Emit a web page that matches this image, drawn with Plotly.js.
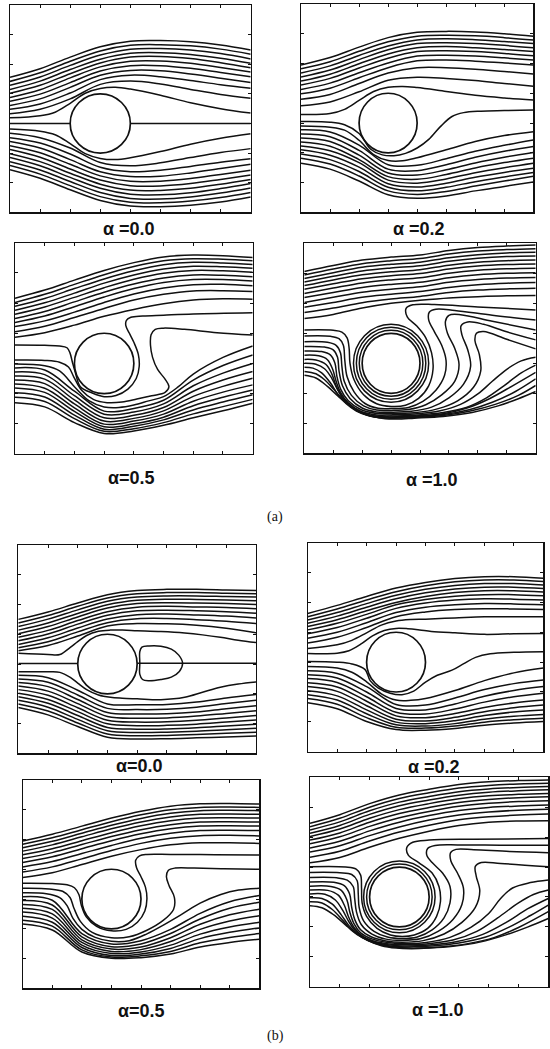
<!DOCTYPE html>
<html>
<head>
<meta charset="utf-8">
<script src="https://cdn.plot.ly/plotly-3.0.1.min.js"></script>
<style>
  html, body { margin: 0; padding: 0; background: #fff; }
  #chart { width: 550px; height: 1049px; }
</style>
</head>
<body>
<div id="chart"></div>
<script>
// Streamlines past a circular cylinder, two model sets (a) and (b),
// four values of alpha each. Coordinates are in grid units: x 0..80, y 0..70.

// x stations shared by the "regular" streamlines (y given at each station)
const stationX = [0, 10, 20, 30, 40, 50, 60, 70, 80];

// cylinder
const cylinderCentre = [30, 30];
const cylinderRadius = 10;

// ---------- (a) alpha = 0.0 ----------
const aAlpha00Lines = [
  [45.6,48.5,52.4,55.9,57.8,58.0,57.6,56.5,54.8],
  [44.2,47.1,51.0,54.5,56.4,56.6,56.2,55.1,53.4],
  [42.9,45.7,49.6,53.1,55.1,55.3,54.8,53.6,51.8],
  [41.5,44.3,48.2,51.7,53.7,53.9,53.3,52.0,50.3],
  [40.2,42.9,46.8,50.4,52.4,52.6,51.9,50.5,48.8],
  [38.8,41.4,45.4,49.1,51.0,51.1,50.3,48.9,47.4],
  [37.5,39.9,43.8,47.7,49.5,49.5,48.6,47.2,45.8],
  [36.1,38.3,42.2,46.3,47.9,47.8,46.7,45.3,43.8],
  [34.8,36.6,40.3,44.8,46.3,45.8,44.5,43.1,41.9],
  [33.3,34.8,38.3,43.2,44.3,43.3,41.5,39.8,38.5],
  [26.7,25.2,21.7,16.8,15.7,16.7,18.5,20.2,21.5],
  [25.2,23.4,19.7,15.2,13.7,14.2,15.5,16.9,18.1],
  [23.9,21.7,17.8,13.7,12.1,12.2,13.3,14.8,16.2],
  [22.5,20.1,16.2,12.3,10.5,10.5,11.4,12.8,14.2],
  [21.2,18.6,14.6,10.9,9.0,8.9,9.7,11.1,12.6],
  [19.8,17.1,13.2,9.5,7.5,7.4,8.1,9.5,11.1],
  [18.5,15.7,11.8,8.1,6.1,5.9,6.6,8.0,9.7],
  [17.1,14.3,10.4,6.7,4.7,4.5,5.2,6.5,8.2],
  [15.8,12.9,9.0,5.3,3.4,3.2,3.8,5.0,6.7],
  [14.4,11.5,7.6,4.0,2.1,1.9,2.4,3.5,5.2]
];
const aAlpha00Curves = [
  [[0,10,15,20,25,30,35,40,50,60,70,80],[31.9,32.6,33.8,36.8,40.2,41.8,42.2,41.6,39.5,37.0,35.0,33.5]],
  [[0,10,15,20,25,30,35,40,50,60,70,80],[28.1,27.4,26.2,23.2,19.8,18.2,17.8,18.4,20.5,23.0,25.0,26.5]],
  [[0,20],[30,30]],
  [[40,80],[30,30]]
];
const aAlpha00Rings = [];

// ---------- (a) alpha = 0.2 ----------
const aAlpha02Lines = [
  [49.5,52.0,55.5,58.7,60.5,60.8,60.6,60.0,59.2],
  [48.2,50.6,54.1,57.3,59.2,59.5,59.3,58.7,57.9],
  [46.8,49.2,52.7,55.9,57.9,58.3,58.0,57.4,56.7],
  [45.5,47.8,51.3,54.6,56.7,57.0,56.7,56.1,55.3],
  [44.1,46.4,49.9,53.2,55.3,55.7,55.3,54.7,54.0],
  [42.8,45.0,48.5,51.8,54.0,54.3,54.0,53.4,52.6],
  [41.3,43.4,46.9,50.2,52.5,52.8,52.5,51.9,51.2],
  [39.8,41.7,45.2,48.6,50.9,51.2,50.8,50.2,49.5],
  [38.0,39.6,43.3,46.8,48.6,48.6,48.1,47.3,46.5],
  [35.8,37.1,40.5,44.4,45.4,45.0,44.3,43.3,42.4],
  [27.7,27.0,22.6,16.0,15.8,18.0,20.5,22.5,24.3],
  [26.3,25.4,20.8,14.5,14.0,16.0,18.5,20.5,22.1],
  [25.0,23.8,19.2,13.2,12.5,14.3,16.6,18.5,20.1],
  [23.6,22.2,17.7,12.0,11.1,12.7,14.9,16.7,18.2],
  [22.3,20.7,16.7,10.8,9.8,11.2,13.3,15.0,16.5],
  [21.0,19.2,15.2,9.6,8.5,9.8,11.8,13.4,14.8],
  [19.6,17.7,13.7,8.4,7.2,8.4,10.3,11.9,13.4],
  [18.2,16.2,12.2,7.2,6.0,7.0,8.8,10.5,12.1],
  [16.5,14.5,10.5,5.9,4.7,5.5,7.2,8.7,10.2]
];
const aAlpha02Curves = [
  [[0,10,15,20,25,30,35,40,50,60,70,80],[32.9,33.2,34.6,37.6,40.6,42.0,42.3,41.9,40.6,39.3,38.4,37.7]],
  [[0,10,15,20,24,28,32,36,40,44,48,52,56,62,70,80],[30.5,30.3,29.4,26.5,21.2,19.3,19.0,19.8,21.6,24.5,28.8,32.2,33.5,34.0,34.2,34.4]],
  [[0,10,15,20,25,30,35,40,50,60,70,80],[29.0,28.6,27.6,24.2,19.4,17.4,17.3,18.3,21.0,23.8,25.8,27.1]]
];
const aAlpha02Rings = [];

// ---------- (a) alpha = 0.5 ----------
const aAlpha05Lines = [
  [51.6,54.3,57.6,60.8,63.4,65.3,65.9,65.7,65.1],
  [50.2,52.9,56.2,59.4,62.1,64.0,64.7,64.5,64.0],
  [48.9,51.5,54.8,58.0,60.7,62.7,63.5,63.3,62.8],
  [47.6,50.1,53.3,56.6,59.3,61.3,62.2,62.0,61.5],
  [46.3,48.7,51.9,55.1,57.9,59.9,60.8,60.7,60.2],
  [44.9,47.2,50.4,53.6,56.3,58.3,59.3,59.2,58.7],
  [43.6,45.7,48.8,52.0,54.8,56.8,57.8,57.8,57.3],
  [42.2,44.1,47.0,50.2,53.0,55.0,56.1,56.2,55.7],
  [40.5,42.3,45.2,48.2,51.0,52.9,54.0,54.1,53.8],
  [38.7,40.2,42.7,45.6,47.9,49.8,51.0,51.4,51.3],
  [28.5,27.8,20.8,14.2,15.1,17.8,24.5,29.3,32.8],
  [27.2,26.3,19.3,13.2,13.9,16.6,22.6,26.8,30.0],
  [25.8,24.8,17.9,12.0,12.8,15.4,20.8,24.5,27.3],
  [24.5,23.3,16.6,10.9,11.8,14.3,19.1,22.4,25.1],
  [23.2,21.8,15.3,9.9,10.9,13.2,17.5,20.5,22.9],
  [21.9,20.4,14.1,9.0,10.0,12.2,16.0,18.8,21.2],
  [20.3,18.9,12.9,8.2,9.2,11.3,14.6,17.2,19.6],
  [18.8,17.4,11.7,7.5,8.4,10.4,13.3,15.7,18.1],
  [17.0,15.6,10.4,6.8,7.6,9.5,12.0,14.3,16.8]
];
const aAlpha05Curves = [
  [[0,10,15,17.5,18.5,19.3,20.3,22,26,30,34,38,40.8,41.8,41.5,40,38.5,37.3,37.5,39,43,50,60,80],
   [36.1,36.0,35.8,35.2,33.5,30.5,27.0,22.3,20.2,19.0,19.4,21.5,25.0,29,33,37,40,42.5,44.3,45.3,45.7,46.0,46.4,46.8]],
  [[0,10,15,18,19.8,22.5,26.5,31,36,41,46,50.5,51.8,50.5,48,46.3,45.6,45.8,47.2,50,57,68,80],
   [31.1,31.0,30.4,28.8,25.5,21.0,18.0,17.0,17.2,18.2,19.3,20.4,22.3,24.8,28,32,36,39.5,41.3,41.7,41.3,40.2,39.4]],
  [[0,10,15,20,25,30,35,40,45,50,55,60,70,80],
   [29.8,29.2,27.5,22.3,17.6,15.6,15.4,16.2,17.6,19.0,22.3,26.5,32.0,35.8]]
];
const aAlpha05Rings = [];

// ---------- (a) alpha = 1.0 ----------
const aAlpha10Lines = [
  [60.6,62.6,64.4,65.4,66.1,67.6,68.6,69.1,69.4],
  [59.4,61.4,63.2,64.2,64.9,66.4,67.4,67.9,68.2],
  [58.3,60.2,62.0,63.0,63.7,65.2,66.2,66.8,67.0],
  [57.1,59.0,60.8,61.8,62.5,64.0,65.0,65.6,65.8],
  [55.9,57.8,59.5,60.5,61.2,62.7,63.7,64.2,64.4],
  [54.7,56.5,58.2,59.2,59.9,61.4,62.4,62.9,63.1],
  [53.3,55.1,56.8,57.8,58.5,60.0,61.0,61.5,61.7],
  [51.9,53.6,55.3,56.3,57.0,58.5,59.5,60.0,60.2],
  [50.3,52.0,53.7,54.7,55.5,57.0,57.9,58.4,58.6],
  [48.7,50.3,52.0,53.0,53.9,55.3,56.2,56.7,56.9],
  [46.9,48.4,50.2,51.4,52.3,53.6,54.4,54.8,55.0],
  [44.9,46.3,48.4,50.0,51.0,51.8,52.2,52.5,52.6]
];
const aAlpha10Curves = [
  [[0,10,13,14.8,15.5,15.8,17.2,20.5,25,30,35,39.5,43,44.5,44,42,38.8,35.6,35.2,37.5,45,60,80],
   [41.1,41.0,40.4,38.5,35,30,24.5,19.5,16.5,15.6,16.0,18.3,22.5,28,33.5,38.5,42.5,45.5,48.3,49.5,49.6,48.8,47.8]],
  [[0,9,12,13.5,14,14.8,17.2,21,25.5,30,36,41,45.5,48.5,49,47.5,45,43,43.2,45.5,52,65,80],
   [39.1,39.0,38.2,36,31,25.5,20.5,16.6,15.0,14.9,15.3,17.3,21,26,31,36,40.5,44.5,47,48,47.6,46,44.4]],
  [[0,8,11,12.5,13,13.8,16.3,20.5,25,30,36,42,47.5,52,53.5,52,49.5,48.8,50,54,65,80],
   [37.2,37.0,36,33.5,29,24,19.3,15.8,14.4,14.3,14.6,16.2,19.5,24,29.5,35,40,44,46.0,46.2,44.0,41.1]],
  [[0,7,10,11.5,12,13.2,15.8,20,25,30,37,44,50,55,57.5,56.5,54.5,54.2,56.5,62,70,80],
   [35.6,35.4,34.5,32,27.5,22.5,18.3,15.1,13.8,13.7,14.0,15.4,18.5,23,29,34.5,39.5,42.5,43.8,43,40.5,37.8]],
  [[0,6,9,10.6,11.3,12.6,15.2,19.5,25,30,38,46,53,58.5,61,60.5,59,59.5,62,70,80],
   [34.1,33.9,32.8,30,25.5,21.3,17.5,14.6,13.3,13.2,13.5,14.8,17.5,22,27.5,33,37.5,40,40.6,38,34.8]],
  [[0,5,8,9.8,11,12.5,15.2,19.5,25,30,38,47,54,60,65,70,75,80],
   [32.7,32.5,31.2,28,24,20.3,16.8,14.0,12.8,12.8,13.1,14.2,16.3,19.8,24,28,30.8,32.0]],
  [[0,4,7.5,9.5,11,13,16,20,25,30,38,48,56,63,69,75,80],
   [31.3,31.1,29.6,26.5,22.5,18.8,15.6,13.4,12.4,12.4,12.7,13.6,15.3,18.5,22.5,26.8,29.4]],
  [[0,4,7,9.5,11.5,14,17,21,25.5,30,38,48,56,64,72,80],
   [30.0,29.7,28.2,25,21.2,17.6,14.9,13.0,12.1,12.1,12.4,13.2,15,18.2,22.5,27.0]],
  [[0,3,6,9,11.5,14.5,18,22,26,30,38,48,57,65,73,80],
   [28.7,28.4,26.8,23.5,19.8,16.5,14.1,12.6,11.9,11.9,12.2,12.9,14.5,17,20.6,24.8]],
  [[0,4,7,10,13,16.5,20.5,25,30,38,48,57,66,74,80],
   [27.3,26.5,24.5,21.5,18.3,15.4,13.2,12.0,11.7,11.9,12.6,14,16.3,19.3,22.6]],
  [[0,4,8,11.5,15,19,23.5,28,32,38,48,58,67,74,80],
   [26.0,25.1,22.3,19.2,16.4,14.0,12.3,11.5,11.4,11.7,12.3,13.6,15.8,18.2,20.6]]
];
const aAlpha10Rings = [11, 12, 13];

// ---------- (b) alpha = 0.0 ----------
const bAlpha00Lines = [
  [45.0,47.5,50.5,53.3,54.7,55.1,55.1,54.9,54.7],
  [43.8,46.3,49.4,52.2,53.6,54.0,54.0,53.8,53.6],
  [42.6,45.1,48.2,51.1,52.5,52.9,52.9,52.7,52.5],
  [41.4,43.8,47.0,49.9,51.4,51.8,51.7,51.5,51.3],
  [40.2,42.6,45.8,48.8,50.3,50.6,50.5,50.3,50.0],
  [39.0,41.3,44.6,47.6,49.1,49.4,49.2,49.0,48.6],
  [37.8,40.1,43.4,46.4,47.9,48.1,47.9,47.6,47.1],
  [36.6,38.8,42.1,45.1,46.6,46.8,46.5,46.1,45.5],
  [35.5,37.5,40.8,43.9,45.2,45.3,44.9,44.4,43.6],
  [34.5,36.2,39.4,42.8,43.6,43.5,43.0,42.0,40.5],
  [26.2,25.4,21.2,16.6,16.3,16.4,17.2,18.6,19.8],
  [25.0,23.9,19.6,15.1,14.7,14.8,15.5,16.7,17.8],
  [23.8,22.4,18.1,13.7,13.2,13.3,13.9,15.0,16.0],
  [22.6,20.9,16.7,12.4,11.8,11.9,12.5,13.4,14.3],
  [21.4,19.5,15.3,11.1,10.5,10.6,11.1,11.9,12.7],
  [20.2,18.1,14.0,9.9,9.3,9.4,9.8,10.5,11.2],
  [19.0,16.8,12.7,8.7,8.1,8.2,8.6,9.2,9.8],
  [17.8,15.5,11.4,7.6,7.0,7.1,7.4,7.9,8.4],
  [16.6,14.2,10.2,6.5,5.9,6.0,6.3,6.7,7.1],
  [15.4,12.9,9.0,5.4,4.8,4.9,5.2,5.5,5.8]
];
const bAlpha00Curves = [
  [[0,10,14,17.5,20,23,27,31,35,40,48,56,62,68,74,80],
   [33.6,33.2,33.2,35.6,37.5,39.6,41.0,41.4,41.4,41.2,40.9,40.4,39.8,39.0,38.0,37.2]],
  [[0,10,14,17.5,20,23,27,31,35,40,48,56,62,68,74,80],
   [27.4,27.4,27.2,25.5,23.6,21.4,19.6,18.8,18.5,18.3,18.0,18.8,20.5,22.2,23.3,24.0]],
  [[0,20],[30.2,30.2]],
  [[40,80],[30.3,30.3]],
  [[40.9,40.9,41.6,44,48,51.5,54,55.3,54.2,51.5,48,44,41.8,40.9,40.9],
   [30.3,34.2,35.7,36.1,36.0,35.0,33.0,30.3,27.5,25.6,24.8,24.4,24.8,26.5,30.3]]
];
const bAlpha00Rings = [];

// ---------- (b) alpha = 0.2 ----------
const bAlpha02Lines = [
  [46.3,49.0,52.0,54.8,56.7,58.0,58.6,58.6,58.1],
  [45.2,47.8,50.8,53.6,55.6,56.9,57.5,57.5,57.0],
  [44.1,46.6,49.6,52.4,54.4,55.7,56.3,56.3,55.8],
  [43.0,45.4,48.4,51.2,53.2,54.5,55.1,55.1,54.7],
  [41.9,44.2,47.2,50.0,52.0,53.3,53.9,53.9,53.5],
  [40.8,43.0,46.0,49.2,51.0,52.1,52.6,52.6,52.2],
  [39.5,41.6,44.7,48.0,49.8,50.8,51.2,51.1,50.8],
  [38.0,40.0,43.2,46.6,48.4,49.2,49.6,49.5,49.2],
  [36.4,38.3,41.6,45.2,46.8,47.6,47.9,47.8,47.6],
  [27.1,26.2,21.8,15.8,15.6,18.0,20.8,22.8,24.0],
  [25.8,24.7,20.0,14.5,14.0,16.0,18.6,20.5,21.8],
  [24.5,23.2,18.4,13.2,12.6,14.3,16.6,18.4,19.6],
  [23.1,21.7,16.9,12.0,11.4,12.8,14.8,16.3,17.3],
  [21.8,20.2,15.4,10.9,10.3,11.5,13.4,14.7,15.6],
  [20.4,18.7,14.0,9.9,9.4,10.4,12.1,13.3,14.0],
  [19.1,17.3,12.7,9.0,8.6,9.4,10.9,11.9,12.5],
  [17.8,15.9,11.4,8.2,7.9,8.6,9.9,10.7,11.2],
  [16.4,14.4,10.1,7.4,7.2,7.8,8.9,9.6,10.1]
];
const bAlpha02Curves = [
  [[0,10,15,20,25,30,35,40,50,60,70,80],[34.6,35.8,37.3,39.8,42.4,43.8,44.3,44.4,44.8,45.2,45.2,45.2]],
  [[0,10,14,18,22,26,30,34,38,42,50,60,70,80],[32.9,33.0,33.8,36.0,38.8,40.6,41.3,41.2,40.8,40.3,39.8,39.3,39.5,39.6]],
  [[0,10,15,19.5,21.2,24,28,32,36,40,44,49,53,57,62,70,80],
   [30.2,30.0,29.4,27.5,23.8,21.3,19.6,19.1,20.3,23.3,25.6,27.3,29.5,31.6,32.8,33.3,33.5]],
  [[0,10,15,20,25,30,35,40,50,60,70,80],[28.5,28.0,26.6,23.4,19.4,17.3,17.2,17.8,20.5,23.8,26.4,28.0]]
];
const bAlpha02Rings = [];

// ---------- (b) alpha = 0.5 ----------
const bAlpha05Lines = [
  [49.5,51.8,54.5,57.2,59.5,61.2,62.0,62.1,61.9],
  [48.4,50.6,53.3,56.0,58.3,60.0,60.8,60.9,60.8],
  [47.2,49.4,52.1,54.8,57.1,58.8,59.7,59.8,59.7],
  [46.1,48.2,50.9,53.6,55.9,57.6,58.5,58.6,58.5],
  [44.9,46.9,49.6,52.3,54.6,56.3,57.2,57.3,57.2],
  [43.6,45.6,48.3,51.0,53.3,55.0,55.9,56.0,55.9],
  [42.3,44.2,46.9,49.6,51.9,53.6,54.5,54.6,54.5],
  [40.8,42.6,45.3,48.0,50.4,52.1,53.0,53.1,53.0],
  [39.1,40.8,43.5,46.3,48.7,50.4,51.3,51.4,51.2],
  [37.2,38.8,41.6,44.4,46.6,48.2,48.9,48.9,48.7],
  [30.8,29.6,18.4,14.9,16.0,19.8,25.2,29.1,31.2],
  [29.5,28.0,17.3,14.0,14.9,18.4,23.3,26.9,28.9],
  [28.2,26.5,16.3,13.2,13.9,17.0,21.5,24.7,26.6],
  [26.9,25.0,15.4,12.4,13.0,15.7,19.8,22.6,24.4],
  [25.6,23.6,14.5,11.7,12.2,14.5,18.2,20.6,22.2],
  [24.2,22.2,13.7,11.0,11.5,13.4,16.7,18.8,20.3],
  [22.9,20.9,12.9,10.5,10.9,12.4,15.3,17.1,18.4],
  [21.6,19.6,12.2,10.1,10.3,11.5,13.9,15.4,16.5]
];
const bAlpha05Curves = [
  [[0,10,15,17.5,19,19.8,21.5,25,30,35,38.8,41.3,42,41.5,40,38.5,38.2,39.5,42,50,65,80],
   [35.3,35.2,34.8,33.8,31.5,28,24,20.8,19.3,19.8,22.2,26,30,34,37.5,40.5,43,44.5,45,45,44.9,44.8]],
  [[0,9,13.5,16,17.3,19.5,23.5,30,36,42,47.5,51,51.3,49.5,48.6,49.2,51.5,58,68,80],
   [33.6,33.4,32.6,30.5,27,22.5,18.8,17.0,17.3,19.5,22.8,26.5,30.5,34.5,37.5,39.6,40.4,40.4,40.2,40.0]],
  [[0,8,12.5,15,17,20,24.5,30,36,42,48,54,60,67,73,80],
   [32.1,31.8,30.5,27.8,23.5,19.8,17.1,15.8,16,18.3,21.5,25,28.6,31.5,33,33.6]]
];
const bAlpha05Rings = [];

// ---------- (b) alpha = 1.0 ----------
const bAlpha10Lines = [
  [54.6,57.5,61.2,64.1,66.0,67.6,68.5,68.9,69.1],
  [53.5,56.3,60.0,62.9,64.8,66.4,67.3,67.8,68.0],
  [52.4,55.1,58.8,61.7,63.6,65.2,66.1,66.6,66.9],
  [51.3,53.9,57.6,60.5,62.4,64.0,65.0,65.5,65.8],
  [50.2,52.7,56.3,59.2,61.2,62.8,63.8,64.3,64.6],
  [49.0,51.4,55.0,57.9,59.9,61.6,62.6,63.2,63.5],
  [47.8,50.1,53.6,56.5,58.6,60.3,61.3,61.9,62.2],
  [46.4,48.6,52.1,55.0,57.2,58.9,59.9,60.4,60.7],
  [45.0,47.1,50.5,53.4,55.7,57.4,58.4,59.0,59.3],
  [43.3,45.3,48.7,51.7,54.0,55.8,56.8,57.4,57.7],
  [41.4,43.2,46.6,49.6,52.0,53.9,55.0,55.4,55.5]
];
const bAlpha10Curves = [
  [[0,12,15.5,17,17.3,17.5,19,22.5,27,31,35,39.5,42.5,43.8,43.3,41,36.5,33,32.5,34.5,40,55,80],
   [40.1,40.0,39.3,37.3,33,28,23.5,19.5,17.3,16.8,17.3,19.5,23.5,28.5,33.5,38,41.5,44,46.5,48.3,49,49.3,49.5]],
  [[0,10,14,15.8,16.2,16.5,18,21.5,26,31,36,41,45,47,47,44.5,41,39.2,39.5,42,50,65,80],
   [38.2,38.1,37.5,35.5,31,26.5,22,18.5,16.6,16.1,16.6,19,23,28,33.5,38,41.5,44,46.2,47.2,47.4,47.3,47.3]],
  [[0,9,12.5,14.5,15,15.6,17.2,20.8,25.5,31,37,43,48,51,51.5,49.5,47.3,47.2,49,55,67,80],
   [36.5,36.4,35.6,33.5,29.5,25,20.8,17.6,15.9,15.5,16,18.5,22.5,27.5,33,38,42,44.8,45.9,45.8,45.2,44.8]],
  [[0,8,11.5,13.3,14,15,17,20.5,25.5,31,38,45,51,55.5,57,55.8,55.5,57.5,64,80],
   [35.0,34.9,33.8,31,26.5,22.5,19,16.7,15.3,14.9,15.4,17.6,21.5,26.5,32,37,40.2,41.5,41.2,40.1]],
  [[0,7,10.5,12.4,13.4,14.8,17,21,26,31,39,47,54,60,64,68,74,80],
   [33.6,33.5,32.2,29,24.8,21,18,15.9,14.8,14.4,14.8,16.5,19.8,24.5,29.5,33,34.8,35.7]],
  [[0,6,9.5,11.5,13,14.8,17.5,21.5,26.5,31,39,48,56,63,70,75,80],
   [32.3,32.2,30.6,27.3,23.2,19.8,17,15.2,14.3,14.0,14.3,15.6,18.5,23,28,30.8,32.3]],
  [[0,5,8.5,11,13,15.3,18.5,22.5,27,31,40,49,58,66,73,80],
   [31.0,30.9,29,25.5,21.8,18.6,16.2,14.7,13.9,13.6,13.9,15,17.5,21.6,26,29.5]],
  [[0,4,7.5,10.5,13,16,19.5,24,28.5,33,41,50,59,67,74,80],
   [29.7,29.5,27.6,24,20.5,17.6,15.5,14.1,13.4,13.3,13.6,14.6,16.6,20,23.8,27.3]],
  [[0,4,7.5,11,14,17.5,21.5,26,31,36,44,53,62,70,80],
   [28.4,28.0,25.8,22.2,18.8,16.4,14.6,13.5,13.0,12.9,13.3,14.4,16.5,19.8,25.1]],
  [[0,4,8,12,15.5,19.5,24,29,34,40,48,57,66,73,80],
   [27.1,26.4,24,20.6,17.8,15.4,13.7,12.9,12.7,12.9,13.5,14.9,17.4,19.9,22.8]]
];
const bAlpha10Rings = [11, 12];

// panel captions
const alphaLabels = ['α =0.0', 'α =0.2', 'α=0.5', 'α =1.0', 'α=0.0', 'α =0.2', 'α=0.5', 'α =1.0'];
const groupLabels = ['(a)', '(b)'];

// ---------- assembly ----------
const panelData = [
  [aAlpha00Lines, aAlpha00Curves, aAlpha00Rings],
  [aAlpha02Lines, aAlpha02Curves, aAlpha02Rings],
  [aAlpha05Lines, aAlpha05Curves, aAlpha05Rings],
  [aAlpha10Lines, aAlpha10Curves, aAlpha10Rings],
  [bAlpha00Lines, bAlpha00Curves, bAlpha00Rings],
  [bAlpha02Lines, bAlpha02Curves, bAlpha02Rings],
  [bAlpha05Lines, bAlpha05Curves, bAlpha05Rings],
  [bAlpha10Lines, bAlpha10Curves, bAlpha10Rings]
];

// plot frames in pixels: [left, right, top, bottom]
const FIG_W = 550, FIG_H = 1049;
const frames = [
  [10, 250.7, 5, 212.3],
  [301, 533.3, 4, 212.3],
  [15, 252.7, 242.7, 454],
  [304.3, 535.7, 243.3, 453.3],
  [18.3, 256, 545, 753.3],
  [307.7, 543.3, 542.7, 751.7],
  [22.7, 259.3, 780, 988.3],
  [310, 548.3, 777.3, 986.7]
];
const labelAt = [[129, 229], [419, 229], [131, 478], [432, 480], [139, 766], [434, 767], [141, 1011], [438, 1010]];
const groupAt = [[275, 517], [275, 1036]];

const INK = '#111';
const traces = [];
const shapes = [];
const annotations = [];
const layout = {
  width: FIG_W, height: FIG_H,
  margin: {l: 0, r: 0, t: 0, b: 0},
  paper_bgcolor: '#fff', plot_bgcolor: '#fff',
  showlegend: false,
  shapes: shapes, annotations: annotations
};

function lineStyle() {
  return {color: INK, width: 1.5, shape: 'spline', smoothing: 1};
}

panelData.forEach(function (p, i) {
  const n = i + 1;
  const xr = n === 1 ? 'x' : 'x' + n;
  const yr = n === 1 ? 'y' : 'y' + n;
  const f = frames[i];
  const axBase = {
    showgrid: false, zeroline: false, showticklabels: false,
    ticks: 'inside', ticklen: 3, tickwidth: 1, tickcolor: INK,
    tick0: 0, dtick: 10,
    showline: true, linecolor: INK, linewidth: 1.2, mirror: 'ticks',
    fixedrange: true
  };
  layout['xaxis' + (n === 1 ? '' : n)] = Object.assign({}, axBase, {
    range: [0, 80], domain: [f[0] / FIG_W, f[1] / FIG_W], anchor: yr
  });
  layout['yaxis' + (n === 1 ? '' : n)] = Object.assign({}, axBase, {
    range: [0, 70], domain: [1 - f[3] / FIG_H, 1 - f[2] / FIG_H], anchor: xr
  });

  const lines = p[0], curves = p[1], rings = p[2];
  lines.forEach(function (ys) {
    traces.push({type: 'scatter', mode: 'lines', x: stationX, y: ys,
      xaxis: xr, yaxis: yr, line: lineStyle(), hoverinfo: 'skip'});
  });
  curves.forEach(function (c) {
    traces.push({type: 'scatter', mode: 'lines', x: c[0], y: c[1],
      xaxis: xr, yaxis: yr, line: lineStyle(), hoverinfo: 'skip'});
  });

  // cylinder and closed streamlines around it
  [cylinderRadius].concat(rings).forEach(function (r, k) {
    shapes.push({
      type: 'circle', xref: xr, yref: yr,
      x0: cylinderCentre[0] - r, x1: cylinderCentre[0] + r,
      y0: cylinderCentre[1] - r, y1: cylinderCentre[1] + r,
      line: {color: INK, width: k === 0 ? 1.7 : 1.5},
      fillcolor: 'rgba(0,0,0,0)', layer: 'above'
    });
  });

  annotations.push({
    text: '<b>' + alphaLabels[i] + '</b>', showarrow: false,
    xref: 'paper', yref: 'paper',
    x: labelAt[i][0] / FIG_W, y: 1 - labelAt[i][1] / FIG_H,
    xanchor: 'center', yanchor: 'middle',
    font: {family: 'Liberation Sans, Arial, sans-serif', size: 18, color: INK}
  });
});

groupLabels.forEach(function (t, j) {
  annotations.push({
    text: t, showarrow: false, xref: 'paper', yref: 'paper',
    x: groupAt[j][0] / FIG_W, y: 1 - groupAt[j][1] / FIG_H,
    xanchor: 'center', yanchor: 'middle',
    font: {family: 'Liberation Serif, Times New Roman, serif', size: 14, color: INK}
  });
});

Plotly.newPlot('chart', traces, layout, {displayModeBar: false, staticPlot: true});
</script>
</body>
</html>
